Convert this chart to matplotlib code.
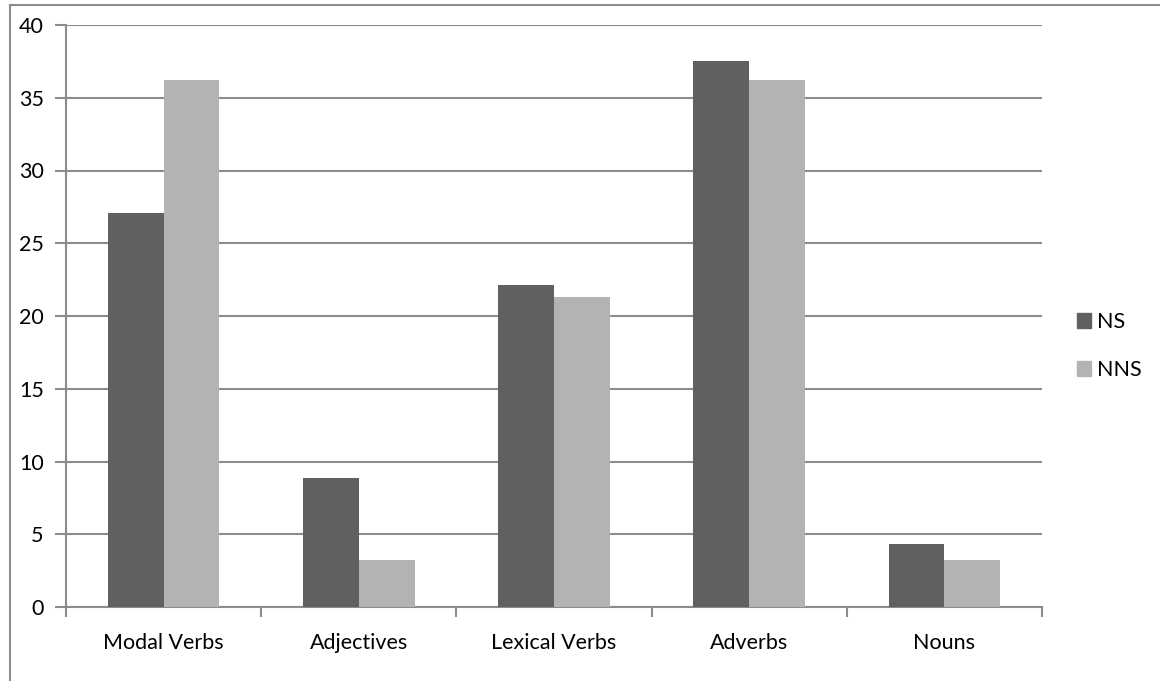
import matplotlib.pyplot as plt
import numpy as np
from matplotlib.patches import Patch
from matplotlib.lines import Line2D

plt.rcParams['font.family'] = ['Lato', 'DejaVu Sans']

# Data
categories = ["Modal Verbs", "Adjectives", "Lexical Verbs", "Adverbs", "Nouns"]
ns_values = [27.1, 8.9, 22.1, 37.5, 4.3]
nns_values = [36.2, 3.2, 21.3, 36.2, 3.2]
series_names = ["NS", "NNS"]

NS_COLOR = "#606060"
NNS_COLOR = "#b3b3b3"
GRID = "#8c8c8c"
FS = 15.5

W, H = 1160, 681
fig = plt.figure(figsize=(W / 100, H / 100), dpi=100)
ax = fig.add_axes([66 / W, 1 - 607 / H, (1042 - 66) / W, (607 - 25) / H])

x = np.arange(len(categories))
bw = 1 / 3.5
ax.bar(x - bw / 2, ns_values, bw, color=NS_COLOR, label=series_names[0], zorder=3)
ax.bar(x + bw / 2, nns_values, bw, color=NNS_COLOR, label=series_names[1], zorder=3)

ax.set_xlim(-0.5, len(categories) - 0.5)
ax.set_ylim(0, 40)
ax.set_yticks(np.arange(0, 41, 5))
ax.yaxis.grid(True, color=GRID, linewidth=1.5, zorder=0)

# x ticks at category boundaries, labels centered
ax.set_xticks(np.arange(-0.5, len(categories), 1.0))
ax.set_xticklabels([])
ax.set_xticks(x, minor=True)
ax.set_xticklabels(categories, minor=True)
ax.tick_params(axis='x', which='minor', length=0, pad=19, labelsize=FS, labelcolor='black')
ax.tick_params(axis='x', which='major', length=7, width=1.5, color=GRID, direction='out')
ax.tick_params(axis='y', length=8, width=1.5, color=GRID, direction='out', pad=8,
               labelsize=FS, labelcolor='black')

for side in ['top', 'right']:
    ax.spines[side].set_visible(False)
ax.spines['left'].set_color(GRID)
ax.spines['left'].set_linewidth(1.5)
ax.spines['bottom'].set_color(GRID)
ax.spines['bottom'].set_linewidth(1.5)

# legend
handles = [Patch(color=NS_COLOR), Patch(color=NNS_COLOR)]
fig.legend(handles, series_names, loc='center left', bbox_to_anchor=(1058 / W, 1 - 346 / H),
           frameon=False, fontsize=FS, handlelength=0.65, handleheight=0.65,
           handletextpad=0.25, labelspacing=1.3)

# outer chart border (left and top visible)
fig.add_artist(Line2D([10 / W, 10 / W], [0, 1 - 5 / H], color=GRID, linewidth=1.5))
fig.add_artist(Line2D([10 / W, 1], [1 - 5 / H, 1 - 5 / H], color=GRID, linewidth=1.5))

fig.savefig("out.png", dpi=100)
